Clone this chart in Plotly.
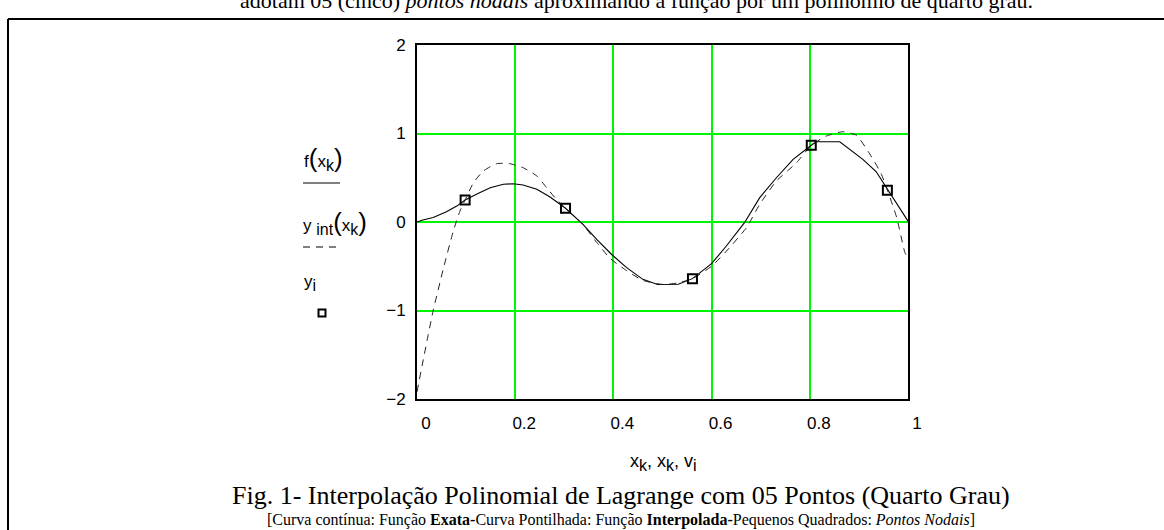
import plotly.graph_objects as go

# ---------------- data ----------------
x_exact = [0, 0.01, 0.033, 0.06, 0.081, 0.098, 0.121, 0.149, 0.176, 0.196, 0.216,
           0.244, 0.271, 0.3025, 0.338, 0.366, 0.397, 0.427, 0.46, 0.49, 0.532,
           0.561, 0.6, 0.63, 0.667, 0.698, 0.732, 0.766, 0.803, 0.813, 0.861,
           0.881, 0.908, 0.935, 0.959, 1.0]
f_exact = [0, 0.02, 0.05, 0.117, 0.18, 0.249, 0.313, 0.388, 0.426, 0.433, 0.418,
           0.369, 0.282, 0.155, -0.026, -0.196, -0.37, -0.516, -0.648, -0.706, -0.704,
           -0.64, -0.471, -0.271, -0.008, 0.275, 0.5, 0.708, 0.867, 0.907, 0.907,
           0.82, 0.708, 0.57, 0.36, 0.01]

x_interp = [0, 0.013, 0.023, 0.033, 0.054, 0.074, 0.0875, 0.098, 0.115, 0.135,
            0.162, 0.189, 0.216, 0.244, 0.264, 0.284, 0.3025, 0.338, 0.366, 0.393,
            0.427, 0.46, 0.5, 0.53, 0.561, 0.6, 0.63, 0.671, 0.698, 0.732, 0.773,
            0.803, 0.834, 0.867, 0.895, 0.922, 0.945, 0.958, 0.977, 0.994, 1.0]
y_interp = [-1.92, -1.55, -1.27, -1.0, -0.52, -0.102, 0.124, 0.249, 0.444, 0.576,
            0.659, 0.659, 0.614, 0.52, 0.388, 0.256, 0.155, -0.03, -0.23, -0.41,
            -0.55, -0.66, -0.705, -0.69, -0.64, -0.5, -0.33, -0.064, 0.2, 0.463, 0.67,
            0.867, 0.972, 1.02, 0.98, 0.77, 0.55, 0.36, 0.05, -0.35, -0.40]

x_nodes = [0.098, 0.3025, 0.561, 0.803, 0.958]
y_nodes = [0.249, 0.155, -0.64, 0.867, 0.36]

x_ticks = [0, 0.2, 0.4, 0.6, 0.8, 1]
x_ticktext = ["0", "0.2", "0.4", "0.6", "0.8", "1"]
y_ticks = [-2, -1, 0, 1, 2]

top_text = "adotam 05 (cinco) <i>pontos nodais</i> aproximando a função por um polinômio de quarto grau."
caption = "Fig. 1- Interpolação Polinomial de Lagrange com 05 Pontos (Quarto Grau)"
footnote = ("[Curva contínua: Função <b>Exata-</b>Curva Pontilhada: Função <b>Interpolada-</b>"
            "Pequenos Quadrados: <i>Pontos Nodais</i>]")

# ---------------- layout geometry ----------------
W, H = 1164, 530
L, R, T, B = 417, 256, 45, 131
PW, PH = W - L - R, H - T - B


def px(X):
    return (X - L) / PW


def py(Y):
    return (H - B - Y) / PH


SANS = "Liberation Sans, Arial, sans-serif"
SERIF = "Liberation Serif, Times New Roman, serif"
GREEN = "rgb(0,245,0)"

fig = go.Figure()
fig.add_trace(go.Scatter(x=x_exact, y=f_exact, mode="lines",
                         line=dict(color="black", width=1.1), showlegend=False))
fig.add_trace(go.Scatter(x=x_interp, y=y_interp, mode="lines",
                         line=dict(color="#222", width=1, dash="7px,6px", shape="spline", smoothing=0.5),
                         showlegend=False))
fig.add_trace(go.Scatter(x=x_nodes, y=y_nodes, mode="markers",
                         marker=dict(symbol="square-open", size=9, color="black",
                                     line=dict(width=2, color="black")),
                         showlegend=False))

fig.update_layout(
    width=W, height=H, autosize=False,
    margin=dict(l=L, r=R, t=T, b=B, pad=0),
    paper_bgcolor="white", plot_bgcolor="white",
    font=dict(family=SANS, size=17, color="black"),
    xaxis=dict(range=[0, 1], tickvals=x_ticks, ticktext=x_ticktext,
               showgrid=True, gridcolor=GREEN, gridwidth=2, zeroline=False,
               showline=True, linecolor="black", linewidth=2, mirror=True,
               ticks="", ticklabelstandoff=8, ticklabelshift=9,
               tickfont=dict(family=SANS, size=17)),
    yaxis=dict(range=[-2, 2], tickvals=y_ticks, showgrid=True, gridcolor=GREEN, gridwidth=2,
               zeroline=False, showline=True, linecolor="black", linewidth=2, mirror=True,
               ticks="", ticklabelstandoff=6, tickfont=dict(family=SANS, size=17)),
)

shapes = []
# outer frame (left and top)
shapes.append(dict(type="line", xref="paper", yref="paper", x0=px(8), x1=px(8), y0=py(19), y1=py(540),
                   line=dict(color="black", width=2)))
shapes.append(dict(type="line", xref="paper", yref="paper", x0=px(8), x1=px(1170), y0=py(19), y1=py(19),
                   line=dict(color="black", width=2)))
# legend samples
shapes.append(dict(type="line", xref="paper", yref="paper", x0=px(303), x1=px(340), y0=py(183), y1=py(183),
                   line=dict(color="black", width=1)))
shapes.append(dict(type="line", xref="paper", yref="paper", x0=px(303), x1=px(340), y0=py(247), y1=py(247),
                   line=dict(color="black", width=1, dash="7px,6px")))
shapes.append(dict(type="rect", xref="paper", yref="paper", x0=px(318.5), x1=px(325.5), y0=py(309.5), y1=py(316.5),
                   line=dict(color="black", width=2)))
fig.update_layout(shapes=shapes)

big = "<span style='font-size:26px'>%s</span>"
sub = "<sub><span style='font-size:16px'>%s</span></sub>"
ann = []
ann.append(dict(text="f" + big % "(" + "x" + sub % "k" + big % ")", x=px(302), y=py(158),
                xanchor="left", yanchor="middle"))
ann.append(dict(text="y<span style='font-size:17px'> </span>" + sub % "int" + big % "(" + "x" + sub % "k" + big % ")",
                x=px(301), y=py(222), xanchor="left", yanchor="middle"))
ann.append(dict(text="y" + sub % "i", x=px(302), y=py(283), xanchor="left", yanchor="middle"))
ann.append(dict(text="x" + sub % "k" + ", x" + sub % "k" + ", v" + sub % "i", x=px(663), y=py(462),
                xanchor="center", yanchor="middle", font=dict(family=SANS, size=18, color="black")))
ann.append(dict(text=caption, x=px(621), y=py(495), xanchor="center", yanchor="middle",
                font=dict(family=SERIF, size=26, color="black")))
ann.append(dict(text=footnote, x=px(621), y=py(520), xanchor="center", yanchor="middle",
                font=dict(family=SERIF, size=16, color="black")))
ann.append(dict(text=top_text, x=px(636), y=py(15), xanchor="center", yanchor="bottom",
                font=dict(family=SERIF, size=22, color="black")))
for a in ann:
    a.update(xref="paper", yref="paper", showarrow=False)
    a.setdefault("font", dict(family=SANS, size=17, color="black"))
fig.update_layout(annotations=ann)

fig.write_html("out.html", config={"displayModeBar": False},
               post_script="document.body.style.margin='0px';")
